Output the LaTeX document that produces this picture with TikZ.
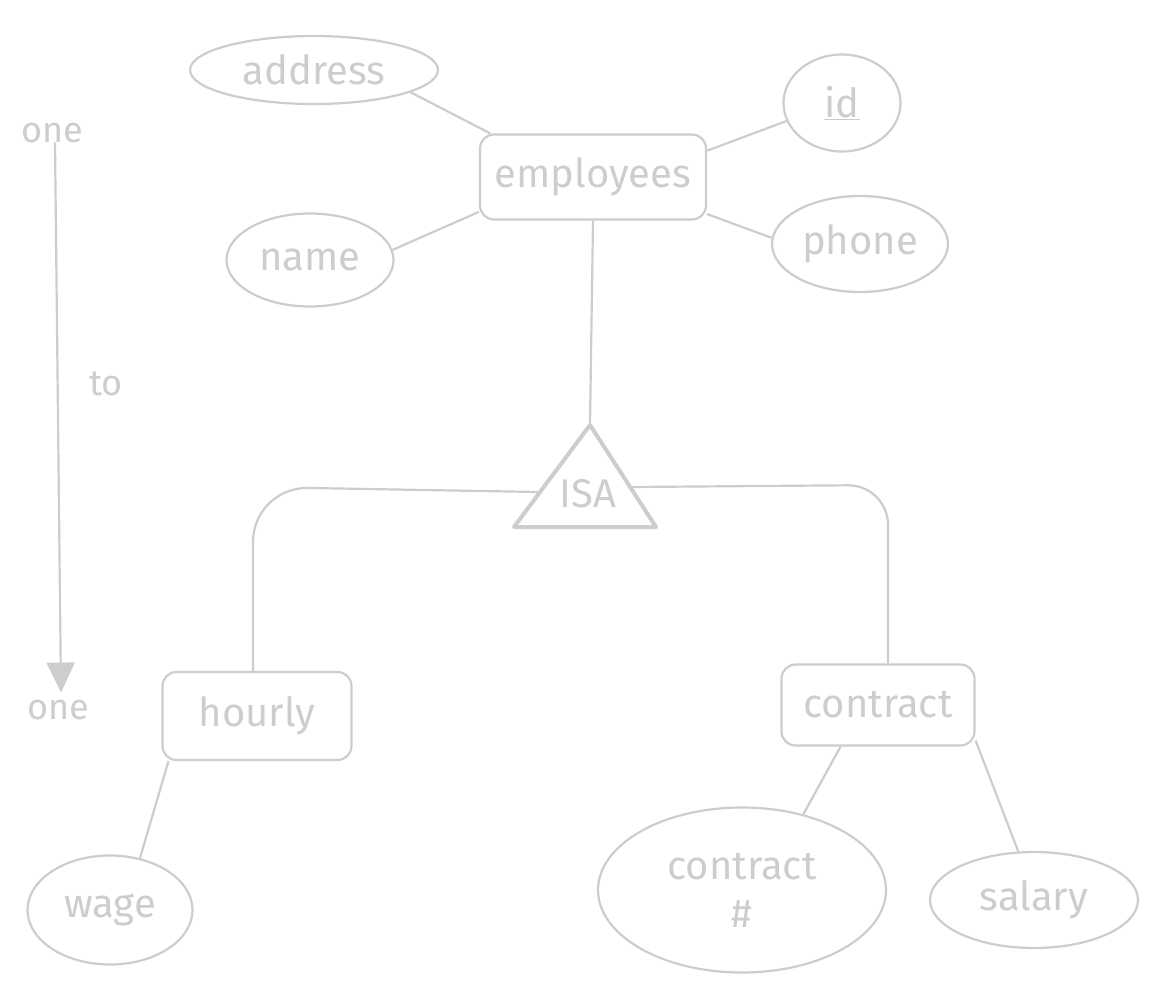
\documentclass[tikz,border=0pt]{standalone}
\usepackage{fontspec}
\setmainfont{Fira Sans}
\usetikzlibrary{shapes.geometric,arrows.meta,calc}
\definecolor{sk}{RGB}{205,205,205}
\begin{document}
\begin{tikzpicture}[x=1pt,y=-1pt,
  every node/.style={text=sk,font=\fontsize{40}{44}\selectfont},
  attr/.style={draw=sk,line width=2.2pt,ellipse,inner sep=0pt},
  ent/.style={draw=sk,line width=2.2pt,rounded corners=14pt,inner sep=0pt},
  conn/.style={draw=sk,line width=2.2pt},
  lbl/.style={font=\fontsize{36}{40}\selectfont}]
\useasboundingbox (0,0) rectangle (1159,996);
% entities
\node[ent,minimum width=226pt,minimum height=85pt] (emp) at (593,177) {employees};
\node[ent,minimum width=189pt,minimum height=88pt] (hourly) at (257,716) {hourly};
\node[ent,minimum width=193pt,minimum height=81pt] (contract) at (878,705) {contract};
% attributes
\node[attr,minimum width=248pt,minimum height=68pt] (addr) at (314,70) {address};
\node[attr,minimum width=117pt,minimum height=97pt] (id) at (842,103) {\underline{id}};
\node[attr,minimum width=167pt,minimum height=93pt] (name) at (310,260) {name};
\node[attr,minimum width=176pt,minimum height=96pt] (phone) at (860,244) {phone};
\node[attr,minimum width=165pt,minimum height=109pt] (wage) at (110,910) {wage};
\node[attr,minimum width=288pt,minimum height=165pt,align=center] (cnum) at (742,890) {contract\\[4pt]\#};
\node[attr,minimum width=208pt,minimum height=96pt] (salary) at (1034,900) {salary};
% ISA triangle
\coordinate (isatop) at (590,425);
\coordinate (isabl) at (514,527);
\coordinate (isabr) at (656,527);
\draw[sk,line width=4pt,line join=round] (isatop) -- (isabr) -- (isabl) -- cycle;
\node (isa) at (588,494) {ISA};
\coordinate (isaL) at (538,492);
\coordinate (isaR) at (632,487);
% connectors
\draw[conn] (addr.-13) -- (emp.157);
\draw[conn] (name.7) -- (emp.197);
\draw[conn] (id.198) -- (emp.13);
\draw[conn] (phone.176) -- (emp.-18);
\draw[conn] (emp.south) -- (isatop);
\draw[conn,rounded corners=55pt] (isaL) -- (253,487) -- ([xshift=-4pt]hourly.north);
\draw[conn,rounded corners=40pt] (isaR) -- (888,485) -- ([xshift=10pt]contract.north);
\draw[conn] (hourly.207) -- (wage.60);
\draw[conn] (contract.228) -- (cnum.51);
\draw[conn] (contract.-20) -- (salary.108);
% one to one
\node[lbl] (one1) at (52,133) {one};
\node[lbl] (to) at (106,384) {to};
\node[lbl] (one2) at (58,710) {one};
\draw[conn,-{Triangle[width=28pt,length=30pt]}] ([xshift=3pt,yshift=4pt]one1.south) -- ([xshift=3pt,yshift=4pt]one2.north);
\end{tikzpicture}
\end{document}
